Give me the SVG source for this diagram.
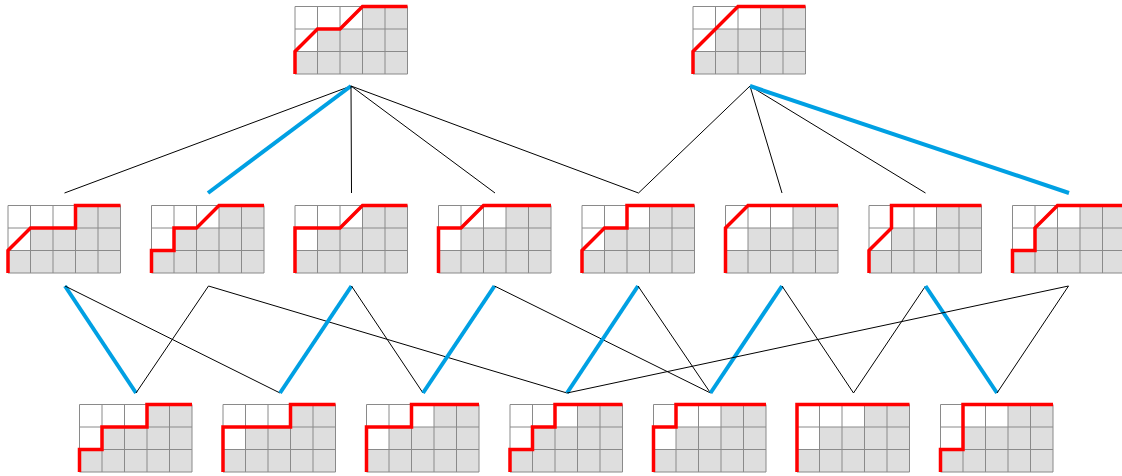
<svg xmlns="http://www.w3.org/2000/svg" xmlns:xlink="http://www.w3.org/1999/xlink" width="1122" height="476" viewBox="0 0 1122 476">
<style>
.bg{fill:#dedede}
.wh{fill:#ffffff}
.gl{stroke:#8a8a8a;stroke-width:1;fill:none}
.rp{stroke:#ff0000;stroke-width:3.5;fill:none;stroke-linejoin:miter}
.e{stroke:#000;stroke-width:1;fill:none}
.b{stroke:#00a0e3;stroke-width:4;fill:none}
</style>
<defs>
<g id="base">
<rect class="bg" x="0" y="0" width="112.5" height="67.5"/>
<polygon class="wh" points="0,0 67.5,0 67.5,22.5 22.5,22.5 22.5,45 0,45"/>
<path class="gl" d="M0,0V67.5M22.5,0V67.5M45,0V67.5M67.5,0V67.5M90,0V67.5M112.5,0V67.5M0,0H112.5M0,22.5H112.5M0,45H112.5M0,67.5H112.5"/>
</g>
</defs>
<rect width="1122" height="476" fill="#fff"/>
<g id="connectors">
<line class="e" x1="351" y1="86" x2="64.5" y2="193"/>
<line class="b" x1="351" y1="86" x2="208" y2="193"/>
<line class="e" x1="351" y1="86" x2="351.5" y2="193"/>
<line class="e" x1="351" y1="86" x2="495" y2="193"/>
<line class="e" x1="351" y1="86" x2="638.5" y2="193"/>
<line class="e" x1="750" y1="86" x2="638.5" y2="193"/>
<line class="e" x1="750" y1="86" x2="782" y2="193"/>
<line class="e" x1="750" y1="86" x2="925.5" y2="193"/>
<line class="b" x1="750" y1="86" x2="1069" y2="193"/>
<line class="b" x1="65" y1="286" x2="136" y2="393"/>
<line class="e" x1="65" y1="286" x2="280" y2="393"/>
<line class="e" x1="208.5" y1="286" x2="136" y2="393"/>
<line class="e" x1="208.5" y1="286" x2="567" y2="393"/>
<line class="b" x1="351.5" y1="286" x2="280" y2="393"/>
<line class="e" x1="351.5" y1="286" x2="423" y2="393"/>
<line class="b" x1="494.5" y1="286" x2="423" y2="393"/>
<line class="e" x1="494.5" y1="286" x2="710.5" y2="393"/>
<line class="b" x1="638" y1="286" x2="567" y2="393"/>
<line class="e" x1="638" y1="286" x2="710.5" y2="393"/>
<line class="b" x1="782" y1="286" x2="710.5" y2="393"/>
<line class="e" x1="782" y1="286" x2="853.5" y2="393"/>
<line class="e" x1="925.5" y1="286" x2="853.5" y2="393"/>
<line class="b" x1="925.5" y1="286" x2="997" y2="393"/>
<line class="e" x1="1068.5" y1="286" x2="997" y2="393"/>
<line class="e" x1="1068.5" y1="286" x2="567" y2="393"/>
</g>
<g id="top1" transform="translate(295,6.5)"><use xlink:href="#base"/><polyline class="rp" points="0,67.5 0,45 22.5,22.5 45,22.5 67.5,0 112.5,0"/></g>
<g id="top2" transform="translate(693,6.5)"><use xlink:href="#base"/><polyline class="rp" points="0,67.5 0,45 45,0 112.5,0"/></g>
<g id="mid0" transform="translate(8,205.5)"><use xlink:href="#base"/><polyline class="rp" points="0,67.5 0,45 22.5,22.5 67.5,22.5 67.5,0 112.5,0"/></g>
<g id="mid1" transform="translate(151.5,205.5)"><use xlink:href="#base"/><polyline class="rp" points="0,67.5 0,45 22.5,45 22.5,22.5 45,22.5 67.5,0 112.5,0"/></g>
<g id="mid2" transform="translate(295,205.5)"><use xlink:href="#base"/><polyline class="rp" points="0,67.5 0,22.5 45,22.5 67.5,0 112.5,0"/></g>
<g id="mid3" transform="translate(438.5,205.5)"><use xlink:href="#base"/><polyline class="rp" points="0,67.5 0,22.5 22.5,22.5 45,0 112.5,0"/></g>
<g id="mid4" transform="translate(582,205.5)"><use xlink:href="#base"/><polyline class="rp" points="0,67.5 0,45 22.5,22.5 45,22.5 45,0 112.5,0"/></g>
<g id="mid5" transform="translate(725.5,205.5)"><use xlink:href="#base"/><polyline class="rp" points="0,67.5 0,22.5 22.5,0 112.5,0"/></g>
<g id="mid6" transform="translate(869,205.5)"><use xlink:href="#base"/><polyline class="rp" points="0,67.5 0,45 22.5,22.5 22.5,0 112.5,0"/></g>
<g id="mid7" transform="translate(1012.5,205.5)"><use xlink:href="#base"/><polyline class="rp" points="0,67.5 0,45 22.5,45 22.5,22.5 45,0 112.5,0"/></g>
<g id="bot0" transform="translate(79.5,404.5)"><use xlink:href="#base"/><polyline class="rp" points="0,67.5 0,45 22.5,45 22.5,22.5 67.5,22.5 67.5,0 112.5,0"/></g>
<g id="bot1" transform="translate(223,404.5)"><use xlink:href="#base"/><polyline class="rp" points="0,67.5 0,22.5 67.5,22.5 67.5,0 112.5,0"/></g>
<g id="bot2" transform="translate(366.5,404.5)"><use xlink:href="#base"/><polyline class="rp" points="0,67.5 0,22.5 45,22.5 45,0 112.5,0"/></g>
<g id="bot3" transform="translate(510,404.5)"><use xlink:href="#base"/><polyline class="rp" points="0,67.5 0,45 22.5,45 22.5,22.5 45,22.5 45,0 112.5,0"/></g>
<g id="bot4" transform="translate(653.5,404.5)"><use xlink:href="#base"/><polyline class="rp" points="0,67.5 0,22.5 22.5,22.5 22.5,0 112.5,0"/></g>
<g id="bot5" transform="translate(797,404.5)"><use xlink:href="#base"/><polyline class="rp" points="0,67.5 0,0 112.5,0"/></g>
<g id="bot6" transform="translate(940.5,404.5)"><use xlink:href="#base"/><polyline class="rp" points="0,67.5 0,45 22.5,45 22.5,0 112.5,0"/></g>
</svg>
